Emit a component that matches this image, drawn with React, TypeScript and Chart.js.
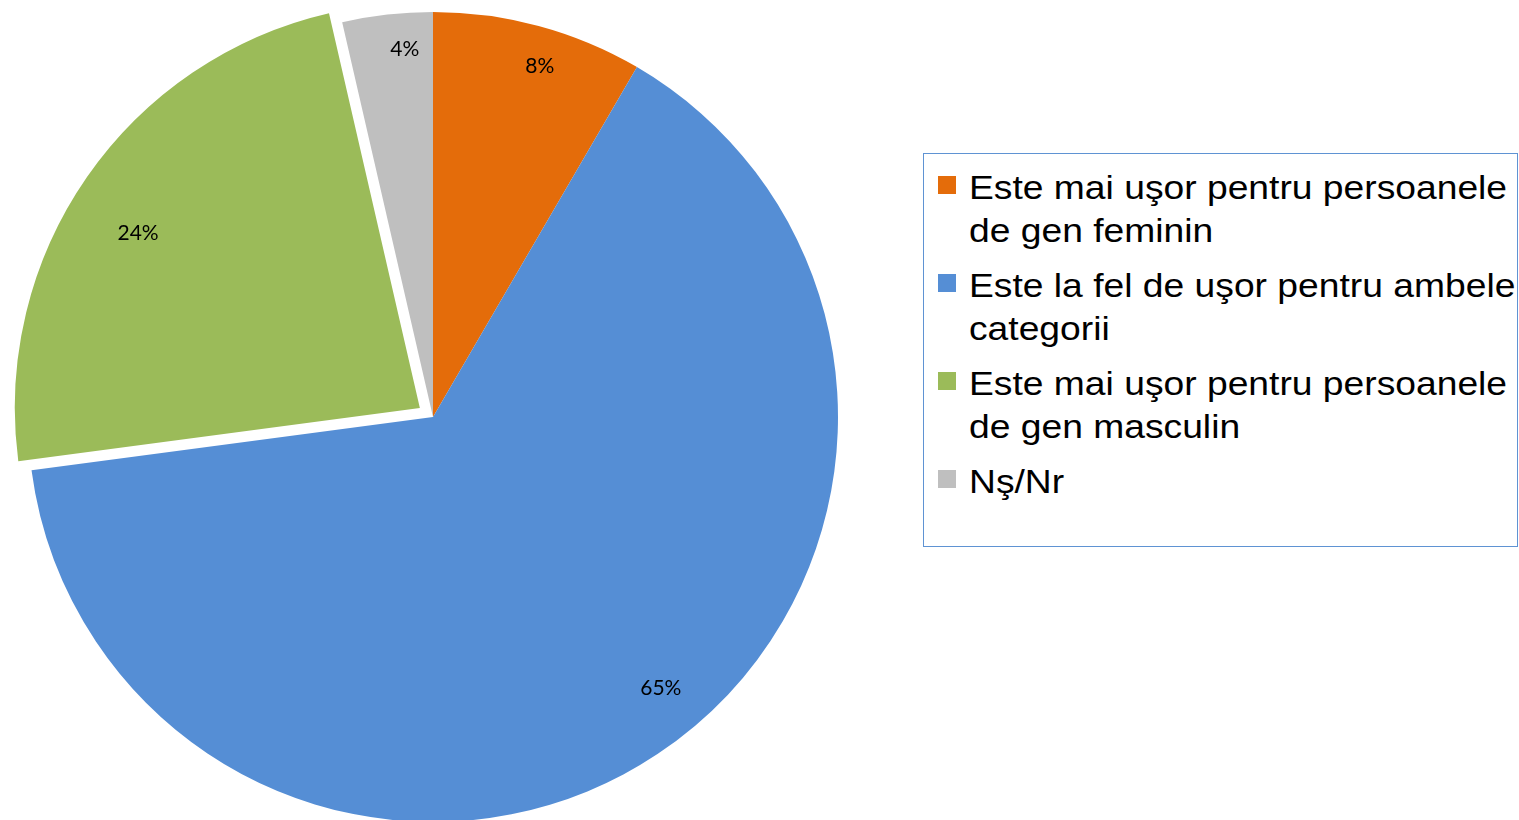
import React, { useEffect, useRef } from "react";
import { Chart, registerables } from "chart.js";

Chart.register(...registerables);

const categories = [
  "Este mai uşor pentru persoanele\nde gen feminin",
  "Este la fel de uşor pentru ambele\ncategorii",
  "Este mai uşor pentru persoanele\nde gen masculin",
  "Nş/Nr",
];
const values = [8.4, 64.5, 23.5, 3.6];
const colors = ["#E46C0A", "#558ED5", "#9BBB59", "#BFBFBF"];
// Chart.js translates an arc by offset / 4
const sliceOffsets = [0, 0, 64, 0];
// label placement: angle shift (deg) and fraction of radius
const labelShift = [1.8, -6.4, -2.9, 2.1];
const labelRadius = [0.906, 0.874, 0.819, 0.911];

const dataLabels = {
  id: "dataLabels",
  afterDatasetsDraw(chart: any) {
    const ctx = chart.ctx;
    const meta = chart.getDatasetMeta(0);
    ctx.save();
    ctx.font = '21px "Lato", "Open Sans", sans-serif';
    ctx.fillStyle = "#000000";
    ctx.textAlign = "center";
    ctx.textBaseline = "middle";
    meta.data.forEach((arc: any, i: number) => {
      const p = arc.getProps(["x", "y", "startAngle", "endAngle", "outerRadius"], true);
      const mid = (p.startAngle + p.endAngle) / 2;
      const off = (sliceOffsets[i] || 0) / 4;
      const cx = p.x + Math.cos(mid) * off;
      const cy = p.y + Math.sin(mid) * off;
      const a = mid + (labelShift[i] * Math.PI) / 180;
      const r = p.outerRadius * labelRadius[i];
      ctx.fillText(Math.round(values[i]) + "%", cx + Math.cos(a) * r, cy + Math.sin(a) * r);
    });
    ctx.restore();
  },
};

export default function App() {
  const canvasRef = useRef<HTMLCanvasElement | null>(null);

  useEffect(() => {
    if (!canvasRef.current) return;
    const chart = new Chart(canvasRef.current, {
      type: "pie",
      data: {
        labels: categories,
        datasets: [
          {
            data: values,
            backgroundColor: colors,
            borderWidth: 0,
            offset: sliceOffsets,
            hoverOffset: 0,
            radius: 405,
          } as any,
        ],
      },
      options: {
        responsive: false,
        animation: false,
        layout: { padding: { top: 14 } },
        plugins: {
          legend: { display: false },
          tooltip: { enabled: false },
        },
      },
      plugins: [dataLabels],
    });
    return () => chart.destroy();
  }, []);

  return (
    <div
      style={{
        position: "absolute",
        left: 0,
        top: 0,
        width: 1519,
        height: 820,
        overflow: "hidden",
        background: "#ffffff",
      }}
    >
      <canvas
        ref={canvasRef}
        width={866}
        height={820}
        style={{ position: "absolute", left: 0, top: 0, display: "block" }}
      />
      <div
        style={{
          position: "absolute",
          left: 923,
          top: 153,
          width: 595,
          height: 394,
          boxSizing: "border-box",
          border: "1.5px solid #5F93D3",
        }}
      />
      {categories.map((c, i) => (
        <div
          key={i}
          style={{
            position: "absolute",
            left: 938,
            top: 166 + i * 98,
            fontFamily: '"Liberation Sans", Arial, sans-serif',
            fontSize: 34,
            lineHeight: "43px",
            color: "#000",
          }}
        >
          <div
            style={{
              position: "absolute",
              left: 0,
              top: 10,
              width: 18,
              height: 18,
              background: colors[i],
            }}
          />
          <span
            style={{
              position: "absolute",
              left: 31,
              top: 0,
              whiteSpace: "pre",
              transform: "scaleX(1.095)",
              transformOrigin: "left top",
              display: "inline-block",
            }}
          >
            {c}
          </span>
        </div>
      ))}
    </div>
  );
}
